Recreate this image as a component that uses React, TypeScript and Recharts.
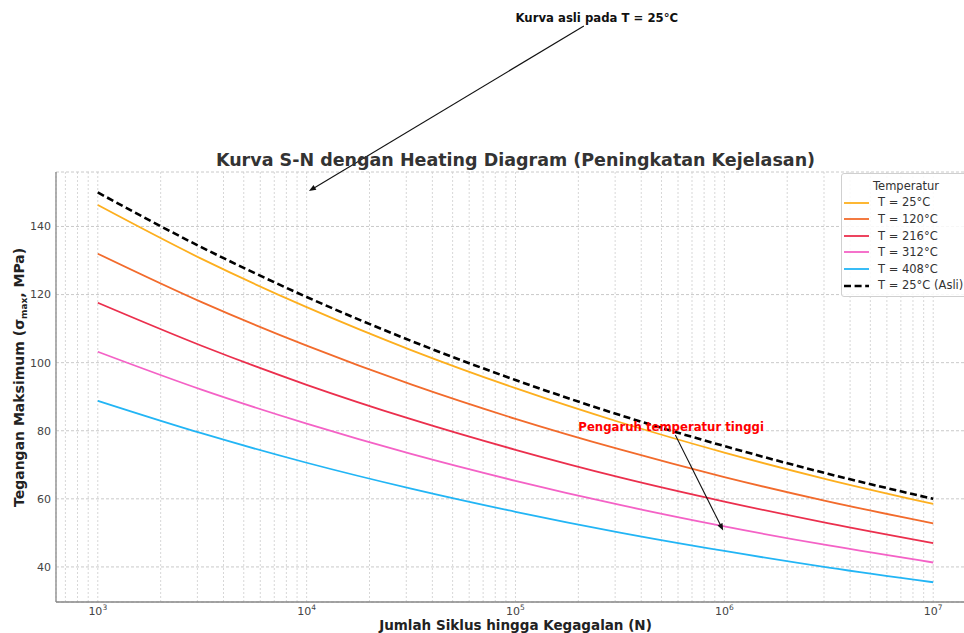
import React, { useLayoutEffect, useRef, useState } from 'react';
import { LineChart, Line, XAxis, YAxis, CartesianGrid, Legend, ReferenceLine } from 'recharts';

// ---------- data ----------
const cycles = [1000, 3162, 10000, 31623, 100000, 316228, 1000000, 3162278, 10000000];
const stressT25 = [146.3, 130.4, 116.3, 103.7, 92.5, 82.5, 73.6, 65.6, 58.5];
const stressT120 = [132.0, 117.7, 105.0, 93.6, 83.5, 74.5, 66.4, 59.2, 52.8];
const stressT216 = [117.6, 104.9, 93.5, 83.4, 74.4, 66.3, 59.2, 52.8, 47.0];
const stressT312 = [103.2, 92.0, 82.1, 73.2, 65.3, 58.2, 51.9, 46.3, 41.3];
const stressT408 = [88.8, 79.2, 70.6, 63.0, 56.2, 50.1, 44.7, 39.8, 35.5];
const stressAsli = [150.0, 133.8, 119.3, 106.4, 94.9, 84.6, 75.5, 67.3, 60.0];

const seriesKeys = ['t25', 't120', 't216', 't312', 't408', 'asli'];
const seriesNames = ['T = 25°C', 'T = 120°C', 'T = 216°C', 'T = 312°C', 'T = 408°C', 'T = 25°C (Asli)'];
const seriesValues = [stressT25, stressT120, stressT216, stressT312, stressT408, stressAsli];

const yTicks = [40, 60, 80, 100, 120, 140];
const decadeTicks = [1e3, 1e4, 1e5, 1e6, 1e7];
const minorMultipliers = [2, 3, 4, 5, 6, 7, 8, 9];
const belowFirstDecade = [700, 800, 900];
const xDomain = [631, 15850000];
const yDomain = [29.7, 156];

const annotations = [
  { label: 'Kurva asli pada T = 25°C', textN: 1e5, textS: 200, tipN: 1e4, tipS: 150, color: '#111111' },
  { label: 'Pengaruh temperatur tinggi', textN: 2e5, textS: 80, tipN: 1e6, tipS: 50, color: '#ff0000' },
];

// ---------- styles ----------
const FONT = '"DejaVu Sans", Verdana, sans-serif';
const seriesStyle: Record<string, { color: string; width: number; dash?: string }> = {
  t25: { color: '#FDAF1E', width: 1.8 },
  t120: { color: '#F26B2C', width: 1.8 },
  t216: { color: '#EB2F4D', width: 1.8 },
  t312: { color: '#F462C6', width: 1.8 },
  t408: { color: '#22B5F5', width: 1.8 },
  asli: { color: '#000000', width: 2.6, dash: '7 3.6' },
};

const tableData = cycles.map((n, i) => {
  const row: Record<string, number> = { N: n };
  seriesKeys.forEach((k, j) => {
    row[k] = seriesValues[j][i];
  });
  return row;
});

const xGridTicks = [
  ...belowFirstDecade,
  ...decadeTicks.flatMap((d) => (d === 1e7 ? [d] : [d, ...minorMultipliers.map((m) => m * d)])),
];

const XTick = (props: any) => {
  const { x, y, payload } = props;
  const v = payload?.value;
  if (!decadeTicks.includes(v)) return <g />;
  const exp = Math.round(Math.log10(v));
  return (
    <text x={x} y={y + 12.5} textAnchor="middle" fontSize={11} fill="#444" fontFamily={FONT}>
      10
      <tspan dy={-5} fontSize={7.5}>
        {exp}
      </tspan>
    </text>
  );
};

const makeArrowShape = (label: string, color: string) => (p: any) => <ArrowAnnotation {...p} label={label} color={color} />;

const ArrowAnnotation = (p: any) => {
  const { x1, y1, x2, y2, label, color } = p;
  const ref = useRef<SVGTextElement>(null);
  const [box, setBox] = useState<{ x: number; y: number; w: number; h: number } | null>(null);
  useLayoutEffect(() => {
    if (ref.current) {
      const b = ref.current.getBBox();
      setBox({ x: b.x, y: b.y, w: b.width, h: b.height });
    }
  }, [x1, y1]);
  let arrow: React.ReactNode = null;
  if (box && isFinite(x2) && isFinite(y2)) {
    const cx = box.x + box.w / 2;
    const cy = box.y + box.h / 2;
    const dx = x2 - cx;
    const dy = y2 - cy;
    const len = Math.hypot(dx, dy);
    const ux = dx / len;
    const uy = dy / len;
    const t = Math.min(Math.abs(dx) > 0 ? box.w / 2 / Math.abs(dx) : 1e9, Math.abs(dy) > 0 ? box.h / 2 / Math.abs(dy) : 1e9);
    const sx = cx + t * dx + ux * 1.5;
    const sy = cy + t * dy + uy * 1.5;
    const ex = x2 - ux * 2.7;
    const ey = y2 - uy * 2.7;
    const hl = 7;
    const hw = 2.8;
    const bx = ex - ux * hl;
    const by = ey - uy * hl;
    arrow = (
      <g>
        <line x1={sx} y1={sy} x2={bx + ux * 1} y2={by + uy * 1} stroke="#111" strokeWidth={1.1} />
        <polygon
          points={`${ex},${ey} ${bx - uy * hw},${by + ux * hw} ${bx + uy * hw},${by - ux * hw}`}
          fill="#111"
        />
      </g>
    );
  }
  return (
    <g>
      <text ref={ref} x={x1} y={y1} textAnchor="start" fontSize={11.7} fontWeight="bold" fill={color} fontFamily={FONT}>
        {label}
      </text>
      {arrow}
    </g>
  );
};

const LegendBox = (props: any) => {
  const payload = [...(props.payload || [])].sort(
    (a: any, b: any) => seriesKeys.indexOf(a.dataKey) - seriesKeys.indexOf(b.dataKey)
  );
  return (
    <div
      style={{
        border: '1px solid #d0d0d0',
        borderRadius: 3,
        background: 'rgba(255,255,255,0.85)',
        padding: '4px 0 2px 0',
        fontFamily: FONT,
        fontSize: 11.5,
        color: '#333',
        boxSizing: 'border-box',
        width: 130,
      }}
    >
      <div style={{ textAlign: 'center', height: 16.4, lineHeight: '16.4px' }}>Temperatur</div>
      {payload.map((entry: any, i: number) => {
        const st = seriesStyle[entry.dataKey] || { color: entry.color, width: 1.8 };
        return (
          <div key={i} style={{ display: 'flex', alignItems: 'center', height: 16.6, whiteSpace: 'nowrap' }}>
            <svg width={25} height={6} style={{ marginLeft: 2, display: 'block' }}>
              <line x1={0} y1={3} x2={25} y2={3} stroke={st.color} strokeWidth={st.width} strokeDasharray={st.dash} />
            </svg>
            <span style={{ marginLeft: 9, lineHeight: '16.6px' }}>{entry.value}</span>
          </div>
        );
      })}
    </div>
  );
};

export default function App() {
  return (
    <div style={{ position: 'absolute', left: 0, top: 0, width: 964, height: 633, overflow: 'hidden', background: '#fff' }}>
      <LineChart
        width={1000}
        height={633}
        data={tableData}
        margin={{ top: 172, right: 25, bottom: 0, left: 0 }}
      >
        <CartesianGrid vertical={false} stroke="#bcbcbc" strokeDasharray="3 2" strokeWidth={0.8} />
        <CartesianGrid horizontal={false} stroke="#cdcdcd" strokeDasharray="2 2" strokeWidth={0.8} />
        <XAxis
          dataKey="N"
          type="number"
          scale="log"
          domain={xDomain}
          allowDataOverflow
          ticks={xGridTicks}
          interval={0}
          tick={<XTick />}
          tickLine={false}
          tickSize={0}
          tickMargin={0}
          height={31}
          axisLine={{ stroke: '#888', strokeWidth: 1.3 }}
        />
        <YAxis
          type="number"
          domain={yDomain}
          allowDataOverflow
          ticks={yTicks}
          interval={0}
          width={56}
          tickLine={false}
          tickSize={0}
          tickMargin={5}
          tick={{ fontSize: 11, fill: '#444', fontFamily: FONT }}
          axisLine={{ stroke: '#888', strokeWidth: 1.3 }}
        />
        {seriesKeys.map((k, j) => (
          <Line
            key={k}
            type="monotone"
            dataKey={k}
            name={seriesNames[j]}
            stroke={seriesStyle[k].color}
            strokeWidth={seriesStyle[k].width}
            strokeDasharray={seriesStyle[k].dash}
            dot={false}
            activeDot={false}
            isAnimationActive={false}
          />
        ))}
        {annotations.map((a, i) => (
          <ReferenceLine
            key={i}
            segment={[
              { x: a.textN, y: a.textS },
              { x: a.tipN, y: a.tipS },
            ]}
            ifOverflow="visible"
            shape={makeArrowShape(a.label, a.color)}
          />
        ))}
        <Legend
          layout="horizontal"
          align="center"
          verticalAlign="middle"
          wrapperStyle={{ left: 841, top: 173, width: 130, height: 'auto' }}
          content={<LegendBox />}
        />
      </LineChart>
      <svg
        width={1000}
        height={633}
        style={{ position: 'absolute', left: 0, top: 0, pointerEvents: 'none' }}
      >
        <text x={515.5} y={165.5} textAnchor="middle" fontSize={17.5} fontWeight="bold" fill="#333" fontFamily={FONT}>
          Kurva S-N dengan Heating Diagram (Peningkatan Kejelasan)
        </text>
        <text x={515.5} y={630} textAnchor="middle" fontSize={13.5} fontWeight="bold" fill="#222" fontFamily={FONT}>
          Jumlah Siklus hingga Kegagalan (N)
        </text>
        <text
          x={23.5}
          y={507}
          transform="rotate(-90 23.5 507)"
          textAnchor="start"
          fontSize={14}
          fontWeight="bold"
          fill="#222"
          fontFamily={FONT}
        >
          Tegangan Maksimum (σ
          <tspan fontSize={9} dy={3}>
            max
          </tspan>
          <tspan dy={-3}>, MPa)</tspan>
        </text>
      </svg>
    </div>
  );
}
